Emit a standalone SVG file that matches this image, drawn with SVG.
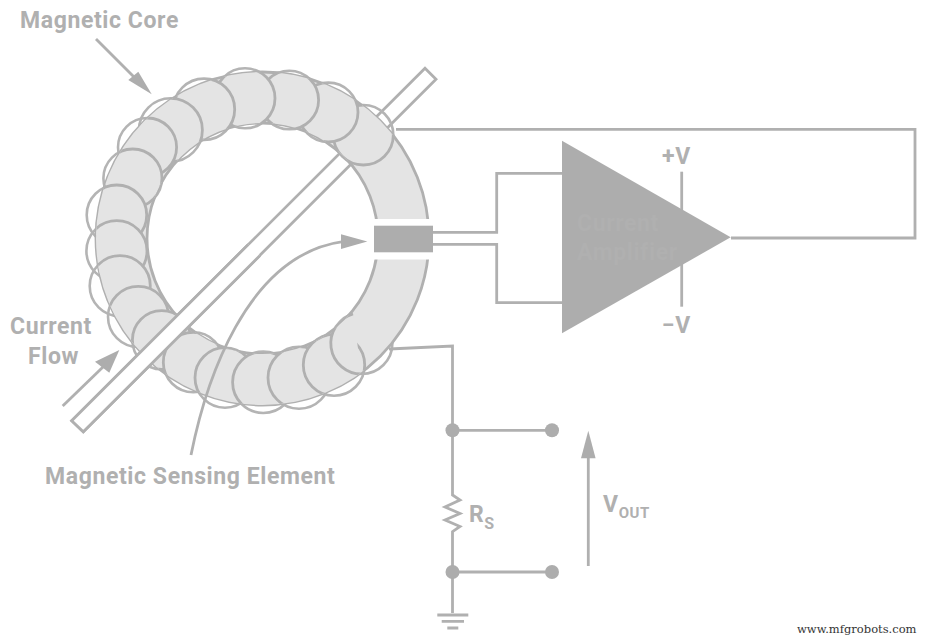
<svg xmlns="http://www.w3.org/2000/svg" width="927" height="640" viewBox="0 0 927 640">
<style>
text{font-family:"Roboto","Liberation Sans",sans-serif;font-weight:700;fill:#b0b0b0}
.l{font-size:23px;letter-spacing:.6px}
.w{fill:none;stroke:#b0b0b0;stroke-width:2.8}
.c{fill:none;stroke:#b4b4b4;stroke-width:2.6}
.f{fill:#e4e4e4;stroke:#b0b0b0;stroke-width:2.8}
.a{fill:#adadad;stroke:none}
.d{fill:#adadad}
</style>
<defs>
<clipPath id="ringclip"><path clip-rule="evenodd" d="M96,238.5a166.5,166.5 0 1,0 333,0a166.5,166.5 0 1,0 -333,0ZM147,238.5a115.5,115.5 0 1,0 231,0a115.5,115.5 0 1,0 -231,0Z"/></clipPath>
</defs>
<rect width="927" height="640" fill="#fff"/>
<g id="conductor-back"><polygon points="425,68.3 436,79.3 83.3,431.7 71.7,420.7" fill="#fff" stroke="#b0b0b0" stroke-width="2.8"/></g>
<g id="core">
<g id="coil-back">
<circle class="c" cx="363.3" cy="135" r="30"/><circle class="c" cx="328.3" cy="112.3" r="29.7"/><circle class="c" cx="289.3" cy="100" r="29.3"/><circle class="c" cx="245" cy="98.3" r="30"/><circle class="c" cx="204" cy="109.3" r="30.7"/><circle class="c" cx="170.7" cy="130" r="31.7"/><circle class="c" cx="147.3" cy="147.3" r="29.3"/><circle class="c" cx="132.7" cy="178.3" r="29.3"/><circle class="c" cx="116.7" cy="215" r="30"/><circle class="c" cx="116.7" cy="251" r="30.3"/><circle class="c" cx="120" cy="286" r="30.3"/><circle class="c" cx="138.3" cy="316.7" r="30.3"/><circle class="c" cx="161.7" cy="340" r="29.3"/><circle class="c" cx="193.3" cy="362.3" r="30"/><circle class="c" cx="225" cy="377.7" r="30"/><circle class="c" cx="263.3" cy="382.3" r="30.7"/><circle class="c" cx="299" cy="377.7" r="31"/><circle class="c" cx="334" cy="365" r="30.7"/><circle class="c" cx="361.7" cy="343.3" r="30.7"/>
</g>
<path class="f" fill-rule="evenodd" d="M96,238.5a166.5,166.5 0 1,0 333,0a166.5,166.5 0 1,0 -333,0ZM147,238.5a115.5,115.5 0 1,0 231,0a115.5,115.5 0 1,0 -231,0Z"/>
<g id="coil-front" clip-path="url(#ringclip)">
<circle class="f" cx="363.3" cy="135" r="30"/><circle class="f" cx="328.3" cy="112.3" r="29.7"/><circle class="f" cx="289.3" cy="100" r="29.3"/><circle class="f" cx="245" cy="98.3" r="30"/><circle class="f" cx="204" cy="109.3" r="30.7"/><circle class="f" cx="170.7" cy="130" r="31.7"/><circle class="f" cx="147.3" cy="147.3" r="29.3"/><circle class="f" cx="132.7" cy="178.3" r="29.3"/><circle class="f" cx="116.7" cy="215" r="30"/><circle class="f" cx="116.7" cy="251" r="30.3"/><circle class="f" cx="120" cy="286" r="30.3"/><circle class="f" cx="138.3" cy="316.7" r="30.3"/><circle class="f" cx="161.7" cy="340" r="29.3"/><circle class="f" cx="193.3" cy="362.3" r="30"/><circle class="f" cx="225" cy="377.7" r="30"/><circle class="f" cx="263.3" cy="382.3" r="30.7"/><circle class="f" cx="299" cy="377.7" r="31"/><circle class="f" cx="334" cy="365" r="30.7"/>
<path class="f" d="M353,313.8A30.7,30.7 0 0 0 361.7,374"/>
</g>
</g>
<g id="conductor-front"><path d="M248.3,244.5L71.7,420.7L83.3,431.7L260,255.5" fill="#fff" stroke="#b0b0b0" stroke-width="2.8"/></g>
<g id="sensor">
<rect x="368" y="219" width="70" height="40.5" fill="#fff"/>
<rect x="374" y="225.7" width="59" height="26.6" fill="#adadad"/>
</g>
<g id="connectors">
<path class="w" d="M396,129.3H915V238H731"/>
<path class="w" d="M433,232.3H496.7V173.3H563"/>
<path class="w" d="M433,244.3H496.7V302.7H563"/>
<path class="w" d="M681.7,171.7V306.7"/>
<path class="w" d="M389,349L452.5,346V495L460,500L445,507L460,513.5L445,520L460,526.5L452.5,531.7V613"/>
<path class="w" d="M452.5,430.3H552"/>
<path class="w" d="M452.5,572H552"/>
<path class="w" d="M437.3,615H468.3M441.7,621.3H464M447.3,628H458.3"/>
<path class="w" d="M96,39L135,78"/>
<polygon class="a" points="151.7,94.3 128.3,80 138.3,71.7"/>
<path class="w" d="M62.7,406L103,367"/>
<polygon class="a" points="119.3,350 95,361.7 109.3,372.7"/>
<path class="w" d="M191,455C205,385 245,255 343,241.7"/>
<polygon class="a" points="367.3,241.5 341,234.3 341,249"/>
<path class="w" d="M588.3,566V455"/>
<polygon class="a" points="588.3,430.7 581,458.3 595.6,458.3"/>
<circle class="d" cx="452.5" cy="430.3" r="7"/><circle class="d" cx="552" cy="430.3" r="7"/><circle class="d" cx="452.5" cy="572" r="7"/><circle class="d" cx="552" cy="572" r="7"/>
</g>
<g id="amplifier">
<polygon points="562,140.7 730.7,237.3 562,333.3" fill="#adadad"/>
<text class="l" x="577" y="231" style="fill:#b0b0b0">Current</text>
<text class="l" x="577" y="260" style="fill:#b0b0b0">Amplifier</text>
</g>
<g id="labels">
<text class="l" x="20" y="27.5">Magnetic Core</text>
<text class="l" x="10" y="333.5">Current</text>
<text class="l" x="28" y="363.5">Flow</text>
<text class="l" x="45" y="483.5">Magnetic Sensing Element</text>
<text class="l" x="662" y="164">+V</text>
<text class="l" x="662" y="333">−V</text>
<text class="l" x="469" y="522">R<tspan font-size="16" dy="7">S</tspan></text>
<text class="l" x="603" y="512">V<tspan font-size="15" dy="5.5">OUT</tspan></text>
<text x="797" y="633" style="font-family:'DejaVu Serif',serif;font-size:11.5px;font-weight:400;fill:#333">www.mfgrobots.com</text>
</g>
</svg>
